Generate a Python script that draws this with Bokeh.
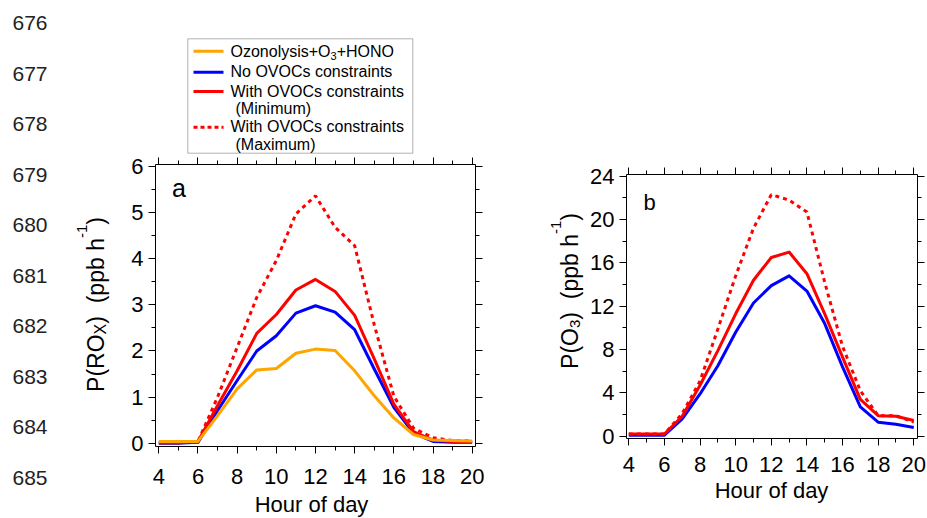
import math
from bokeh.plotting import figure
from bokeh.models import Range1d, FixedTicker, LinearAxis, Label, BoxAnnotation, Arrow
from bokeh.embed import file_html
from bokeh.resources import INLINE

# ---------------- data ----------------
hours = list(range(4, 21))
# panel a: P(ROx) (ppb h-1)
a_ozonolysis = [0.04, 0.04, 0.04, 0.60, 1.18, 1.59, 1.62, 1.95, 2.04, 2.01, 1.57, 1.03, 0.55, 0.19, 0.07, 0.06, 0.05]
a_no_ovoc    = [0.00, 0.00, 0.02, 0.71, 1.36, 2.00, 2.33, 2.82, 2.98, 2.84, 2.46, 1.61, 0.78, 0.22, 0.04, 0.02, 0.02]
a_ovoc_min   = [0.01, 0.01, 0.04, 0.82, 1.57, 2.38, 2.79, 3.32, 3.55, 3.29, 2.77, 1.83, 0.85, 0.25, 0.07, 0.04, 0.03]
a_ovoc_max   = [0.01, 0.01, 0.04, 1.00, 2.08, 3.16, 3.96, 4.97, 5.36, 4.68, 4.28, 2.57, 1.02, 0.33, 0.12, 0.06, 0.05]
# panel b: P(O3) (ppb h-1)
b_no_ovoc    = [0.1, 0.1, 0.1, 1.6, 3.9, 6.5, 9.6, 12.3, 13.9, 14.8, 13.4, 10.4, 6.4, 2.7, 1.3, 1.1, 0.8]
b_ovoc_min   = [0.2, 0.2, 0.2, 1.85, 4.7, 7.9, 11.3, 14.4, 16.5, 17.0, 15.0, 11.3, 7.3, 3.4, 1.9, 1.85, 1.45]
b_ovoc_max   = [0.2, 0.2, 0.2, 2.1, 5.1, 9.9, 14.8, 19.2, 22.3, 21.8, 20.7, 14.2, 8.3, 4.2, 1.9, 1.9, 1.3]

x_ticks = [4, 6, 8, 10, 12, 14, 16, 18, 20]
x_minor = [5, 7, 9, 11, 13, 15, 17, 19]
a_y_ticks = [0, 1, 2, 3, 4, 5, 6]
a_y_minor = [0.5, 1.5, 2.5, 3.5, 4.5, 5.5]
b_y_ticks = [0, 4, 8, 12, 16, 20, 24]
b_y_minor = [2, 6, 10, 14, 18, 22]
line_numbers = ["676", "677", "678", "679", "680", "681", "682", "683", "684", "685"]
legend_labels = ["No OVOCs constraints", "With OVOCs constraints", "(Minimum)",
                 "With OVOCs constraints", "(Maximum)"]

ORANGE, BLUE, RED = "#FFA500", "#0000FF", "#FF0000"
FONT = "Liberation Sans"

# ---------------- page geometry (pixels) ----------------
W, H = 926, 517
A_PX, A_XV = (155, 475), (3.83, 20.17)
A_PY, A_YV = (164, 446), (6.04, -0.07)
B_PX, B_XV = (626, 917), (3.87, 20.21)
B_PY, B_YV = (174, 438), (24.16, -0.21)


def full_range(pp, v, total, flip=False):
    s = (v[1] - v[0]) / (pp[1] - pp[0])
    at0 = v[0] - pp[0] * s
    atN = v[0] + (total - pp[0]) * s
    return Range1d(atN, at0) if flip else Range1d(at0, atN)


p = figure(width=W, height=H, x_range=full_range(A_PX, A_XV, W),
           y_range=full_range(A_PY, A_YV, H, flip=True),
           x_axis_type=None, y_axis_type=None, min_border=0,
           output_backend="svg", toolbar_location=None)
p.outline_line_color = None
p.background_fill_color = "white"
p.border_fill_color = "white"
p.extra_x_ranges = {"b": full_range(B_PX, B_XV, W)}
p.extra_y_ranges = {"b": full_range(B_PY, B_YV, H, flip=True)}


def add_axis(side, ticks, minor, loc, bounds, labels, standoff, rng="default"):
    ax = LinearAxis(x_range_name=rng, y_range_name=rng, fixed_location=loc, bounds=bounds)
    ax.ticker = FixedTicker(ticks=ticks, minor_ticks=minor)
    ax.axis_line_color = "black"
    ax.axis_line_width = 1
    ax.major_tick_line_color = "black"
    ax.minor_tick_line_color = "black"
    ax.major_tick_in = 0
    ax.major_tick_out = 7
    ax.minor_tick_in = 0
    ax.minor_tick_out = 4
    ax.major_label_text_font = FONT
    ax.major_label_text_font_size = "22px"
    ax.major_label_text_color = "black" if labels else None
    ax.major_label_standoff = standoff
    p.add_layout(ax, side)


def panel_axes(xv, yv, yt, ym, x_standoff, rng):
    xb = (min(xv), max(xv))
    yb = (min(yv), max(yv))
    add_axis("below", x_ticks, x_minor, yb[0], xb, True, x_standoff, rng)
    add_axis("above", x_ticks, x_minor, yb[1], xb, False, 0, rng)
    add_axis("left", yt, ym, xb[0], yb, True, 5, rng)
    add_axis("right", yt, ym, xb[1], yb, False, 0, rng)


panel_axes(A_XV, A_YV, a_y_ticks, a_y_minor, 15, "default")
panel_axes(B_XV, B_YV, b_y_ticks, b_y_minor, 11, "b")

# ---------------- lines ----------------
p.line(hours, a_no_ovoc, line_color=BLUE, line_width=3, line_join="round")
p.line(hours, a_ovoc_min, line_color=RED, line_width=3, line_join="round")
p.line(hours, a_ovoc_max, line_color=RED, line_width=3, line_dash="4 4")
p.line(hours, a_ozonolysis, line_color=ORANGE, line_width=3, line_join="round")

p.line(hours, b_no_ovoc, line_color=BLUE, line_width=3, line_join="round", x_range_name="b", y_range_name="b")
p.line(hours, b_ovoc_min, line_color=RED, line_width=3, line_join="round", x_range_name="b", y_range_name="b")
p.line(hours, b_ovoc_max, line_color=RED, line_width=3, line_dash="4 4", x_range_name="b", y_range_name="b")

# ---------------- texts ----------------
ARIAL = {' ': 278, '(': 333, ')': 333, '+': 584, '-': 333,
         'C': 722, 'H': 722, 'M': 833, 'N': 722, 'O': 778, 'P': 667,
         'R': 722, 'V': 667, 'W': 944, 'X': 667,
         'a': 556, 'b': 556, 'c': 500, 'd': 556, 'f': 278, 'h': 556, 'i': 222,
         'l': 222, 'm': 833, 'n': 556, 'o': 556, 'p': 556, 'r': 333, 's': 500,
         't': 278, 'u': 556, 'x': 500, 'y': 500, 'z': 500}
MID = 0.35  # middle of the text box above the baseline, in em


def tw(s, size):
    return sum(ARIAL.get(c, 556) for c in s) * size / 1000.0


def label(px, py, text, size, align="left", vertical=False, color="black"):
    # (px, py) is the start of the baseline in page pixels
    if vertical:
        ax_, ay_ = px - MID * size, py
    else:
        ax_, ay_ = px, py - MID * size
    p.add_layout(Label(x=ax_, y=H - ay_, x_units="screen", y_units="screen", text=text,
                       text_font=FONT, text_font_size=f"{size}px", text_color=color,
                       text_align=align, text_baseline="middle",
                       angle=math.pi / 2 if vertical else 0.0))


def rich(px0, py0, pieces, vertical=False):
    pos = 0.0
    for text, size, shift in pieces:
        if text.strip():
            if vertical:
                label(px0 - shift, py0 - pos, text, size, vertical=True)
            else:
                label(px0 + pos, py0 - shift, text, size)
        pos += tw(text, size)


def a_data(px, py):
    sx = (A_XV[1] - A_XV[0]) / (A_PX[1] - A_PX[0])
    sy = (A_YV[1] - A_YV[0]) / (A_PY[1] - A_PY[0])
    return A_XV[0] + (px - A_PX[0]) * sx, A_YV[0] + (py - A_PY[0]) * sy


# manuscript line numbers
for k, txt in enumerate(line_numbers):
    label(12, 30 + 50.5 * k, txt, 21, color="#222222")

# legend box above panel a
x0, y0 = a_data(187.3, 152.7)
x1, y1 = a_data(412.3, 38.3)
p.add_layout(BoxAnnotation(left=x0, right=x1, bottom=y0, top=y1, fill_color="white",
                           fill_alpha=1.0, line_color="black", line_width=1))
for py, col, dash in [(50.7, ORANGE, "solid"), (71.7, BLUE, "solid"),
                      (91.0, RED, "solid"), (126.7, RED, "4 3")]:
    xs, ys = a_data(193, py)
    xe, ye = a_data(223, py)
    p.add_layout(Arrow(end=None, x_start=xs, y_start=ys, x_end=xe, y_end=ye,
                       line_color=col, line_width=3, line_dash=dash))
rich(230, 56.7, [("Ozonolysis+O", 16, 0), ("3", 11, -3), ("+HONO", 16, 0)])
for txt, px, py in zip(legend_labels, [230, 230, 235, 230, 235],
                       [76.7, 96.7, 113.3, 131.7, 149.3]):
    label(px, py, txt, 16)

# panel letters
label(171.5, 196.7, "a", 25)
label(643, 210, "b", 22)

# axis titles
label(311, 512, "Hour of day", 22, align="center")
label(771, 498, "Hour of day", 22, align="center")
pieces_a = [("P(RO", 23, 0), ("X", 16, -2), (")", 23, 0), ("  ", 23, 0), ("(ppb h", 23, 0),
            ("-1", 15, 17), (")", 23, 0)]
len_a = sum(tw(t, s) for t, s, _ in pieces_a)
rich(104, 304 + len_a / 2, pieces_a, vertical=True)
pieces_b = [("P(O", 23, 0), ("3", 15, -2), (")", 23, 0), ("  ", 23, 0), ("(ppb h", 23, 0),
            ("-1", 15, 17), (")", 23, 0)]
len_b = sum(tw(t, s) for t, s, _ in pieces_b)
rich(578, 290.5 + len_b / 2, pieces_b, vertical=True)

open("out.html", "w").write(file_html(p, INLINE))
